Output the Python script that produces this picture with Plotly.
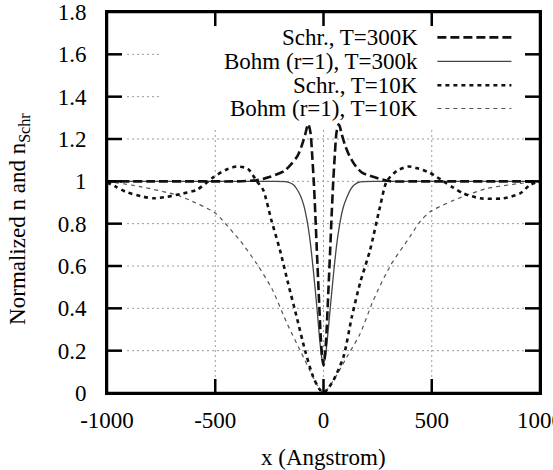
import plotly.graph_objects as go

# ---------------- data ----------------
schr300_x = [-1000, -800, -600, -400, -310, -250, -180, -150, -120, -100, -85, -75, -70, -60, -52, -45, -38, -31, -22, -12, -5, 0,
             5, 12, 22, 31, 38, 45, 52, 60, 70, 75, 85, 100, 120, 150, 180, 250, 310, 400, 600, 800, 1000]
schr300_y = [1.0, 1.0, 1.0, 1.0, 1.005, 1.02, 1.05, 1.08, 1.12, 1.17, 1.22, 1.26, 1.27, 1.23, 1.12, 1.0, 0.85, 0.68, 0.47, 0.25, 0.16, 0.13,
             0.16, 0.25, 0.47, 0.68, 0.85, 1.0, 1.12, 1.23, 1.27, 1.26, 1.22, 1.17, 1.12, 1.07, 1.04, 1.015, 1.0, 1.0, 1.0, 1.0, 1.0]

bohm300_x = [-1000, -400, -250, -169, -140, -124, -108, -92, -77, -62, -47, -31, -16, -7, 0,
             7, 16, 31, 46, 62, 77, 92, 108, 124, 140, 169, 250, 400, 1000]
bohm300_y = [1.0, 1.0, 1.0, 0.998, 0.985, 0.965, 0.935, 0.89, 0.82, 0.72, 0.58, 0.41, 0.235, 0.16, 0.14,
             0.16, 0.235, 0.40, 0.56, 0.71, 0.81, 0.88, 0.925, 0.96, 0.982, 0.997, 1.0, 1.0, 1.0]

schr10_x = [-1000, -960, -915, -831, -785, -723, -661, -585, -508, -450, -401, -350, -308, -279, -239, -201, -164, -124, -85, -48, -20, 0,
            20, 46, 92, 131, 169, 215, 261, 292, 340, 392, 440, 492, 554, 600, 646, 723, 831, 908, 954, 1000]
schr10_y = [0.995, 0.975, 0.951, 0.927, 0.92, 0.927, 0.94, 0.96, 1.02, 1.055, 1.07, 1.06, 1.0, 0.96, 0.81, 0.675, 0.52, 0.36, 0.2, 0.077, 0.02, 0.0,
            0.02, 0.06, 0.17, 0.36, 0.52, 0.675, 0.88, 1.0, 1.05, 1.07, 1.06, 1.04, 1.0, 0.97, 0.943, 0.92, 0.92, 0.943, 0.983, 1.0]

bohm10_x = [-1000, -846, -677, -616, -500, -415, -385, -308, -237, -169, -93, -25, 0,
            46, 108, 169, 231, 308, 400, 446, 492, 600, 754, 908, 1000]
bohm10_y = [1.0, 0.975, 0.935, 0.91, 0.85, 0.755, 0.72, 0.61, 0.49, 0.33, 0.17, 0.03, 0.0,
            0.06, 0.17, 0.28, 0.44, 0.6, 0.74, 0.81, 0.856, 0.91, 0.966, 0.99, 1.0]

series_names = ["Schr., T=300K", "Bohm (r=1), T=300k", "Schr., T=10K", "Bohm (r=1), T=10K"]

x_tick_vals = [-1000, -500, 0, 500, 1000]
x_tick_text = ["-1000", "-500", "0", "500", "1000"]
y_tick_vals = [0, 0.2, 0.4, 0.6, 0.8, 1.0, 1.2, 1.4, 1.6, 1.8]
y_tick_text = ["0", "0.2", "0.4", "0.6", "0.8", "1", "1.2", "1.4", "1.6", "1.8"]

# ---------------- layout constants ----------------
W, H = 553, 470
ML, MR, MT, MB = 107, 13, 12, 77
FONT = "Liberation Serif"
FS = 23
X_MIN, X_MAX = x_tick_vals[0], x_tick_vals[-1]
Y_MIN, Y_MAX = y_tick_vals[0], y_tick_vals[-1]
PX_X = (X_MAX - X_MIN) / (W - ML - MR)   # data units per pixel
PX_Y = (Y_MAX - Y_MIN) / (H - MT - MB)
INK = "#000000"
styles = [
    dict(color="#111111", width=2.6, dash="9px,4px"),
    dict(color="#444444", width=1.3, dash="solid"),
    dict(color="#111111", width=2.6, dash="4px,4px"),
    dict(color="#555555", width=1.2, dash="4px,4px"),
]
data = [(schr300_x, schr300_y), (bohm300_x, bohm300_y), (schr10_x, schr10_y), (bohm10_x, bohm10_y)]

fig = go.Figure()
for idx in [3, 1, 2, 0]:
    xs, ys = data[idx]
    fig.add_trace(go.Scatter(x=xs, y=ys, mode="lines", name=series_names[idx],
                             line=dict(shape="spline", smoothing=0.7, **styles[idx]),
                             showlegend=False, hoverinfo="skip"))

# frame and inward ticks (gnuplot style border), built from the axis ranges / tick values
fx = [X_MIN, X_MAX, X_MAX, X_MIN, X_MIN]
fy = [Y_MIN, Y_MIN, Y_MAX, Y_MAX, Y_MIN]
tx, ty = [], []
for yv in y_tick_vals[1:-1]:
    tx += [X_MIN, X_MIN + 15 * PX_X, None, X_MAX, X_MAX - 15 * PX_X, None]
    ty += [yv, yv, None, yv, yv, None]
for xv in x_tick_vals[1:-1]:
    tx += [xv, xv, None, xv, xv, None]
    ty += [Y_MIN, Y_MIN + 14 * PX_Y, None, Y_MAX, Y_MAX - 14 * PX_Y, None]
fig.add_trace(go.Scatter(x=fx, y=fy, mode="lines", line=dict(color=INK, width=2.5),
                         cliponaxis=False, showlegend=False, hoverinfo="skip"))
fig.add_trace(go.Scatter(x=tx, y=ty, mode="lines", line=dict(color=INK, width=2.5),
                         connectgaps=False, cliponaxis=False, showlegend=False, hoverinfo="skip"))

# dotted grid, interrupted by the key box (as in the gnuplot original)
KEY_LEFT = -755
KEY_BOTTOM = 1.255
grid_line = dict(color="#9a9a9a", width=1, dash="2px,3px")
for yv in y_tick_vals[1:-1]:
    x_end = X_MAX if yv < KEY_BOTTOM else KEY_LEFT
    fig.add_shape(type="line", xref="x", yref="y", x0=X_MIN + 20 * PX_X, x1=x_end, y0=yv, y1=yv,
                  line=grid_line, layer="below")
for xv in x_tick_vals[1:-1]:
    y_end = KEY_BOTTOM if xv > KEY_LEFT else Y_MAX
    fig.add_shape(type="line", xref="x", yref="y", x0=xv, x1=xv, y0=Y_MIN + 16 * PX_Y, y1=y_end,
                  line=grid_line, layer="below")

# custom key: right-aligned text with sample on the right
key_y = [1.68, 1.567, 1.454, 1.344]
for i, name in enumerate(series_names):
    fig.add_annotation(x=446, y=key_y[i], xref="x", yref="y", text=name, showarrow=False,
                       xanchor="right", yanchor="middle", font=dict(family=FONT, size=FS, color=INK))
    fig.add_shape(type="line", xref="x", yref="y", x0=526, x1=868, y0=key_y[i], y1=key_y[i],
                  line=styles[i], layer="above")

# axis titles
fig.add_annotation(xref="paper", yref="paper", x=0, y=0.457, xshift=-88, text="Normalized n and n<sub>Schr</sub>",
                   textangle=-90, showarrow=False, xanchor="center", yanchor="middle",
                   font=dict(family=FONT, size=FS, color=INK))
fig.add_annotation(xref="paper", yref="paper", x=0.5, y=0, yshift=-64, text="x (Angstrom)",
                   showarrow=False, xanchor="center", yanchor="middle",
                   font=dict(family=FONT, size=FS, color=INK))

# outside ticks are transparent: they only space the labels away from the frame
fig.update_xaxes(range=[X_MIN, X_MAX], tickvals=x_tick_vals, ticktext=x_tick_text,
                 ticks="outside", ticklen=5, tickcolor="rgba(0,0,0,0)",
                 showline=True, linecolor=INK, linewidth=2, mirror=True,
                 showgrid=False, zeroline=False, ticklabeloverflow="allow",
                 tickfont=dict(family=FONT, size=FS, color=INK))
fig.update_yaxes(range=[Y_MIN, Y_MAX], tickvals=y_tick_vals, ticktext=y_tick_text,
                 ticks="outside", ticklen=14, tickcolor="rgba(0,0,0,0)",
                 showline=True, linecolor=INK, linewidth=2, mirror=True,
                 showgrid=False, zeroline=False, ticklabeloverflow="allow",
                 tickfont=dict(family=FONT, size=FS, color=INK))

fig.update_layout(width=W, height=H, margin=dict(l=ML, r=MR, t=MT, b=MB, autoexpand=False),
                  paper_bgcolor="white", plot_bgcolor="white", showlegend=False)

fig.write_html("out.html", config={"displayModeBar": False},
               post_script="document.body.style.margin='0';document.body.style.overflow='hidden';")
